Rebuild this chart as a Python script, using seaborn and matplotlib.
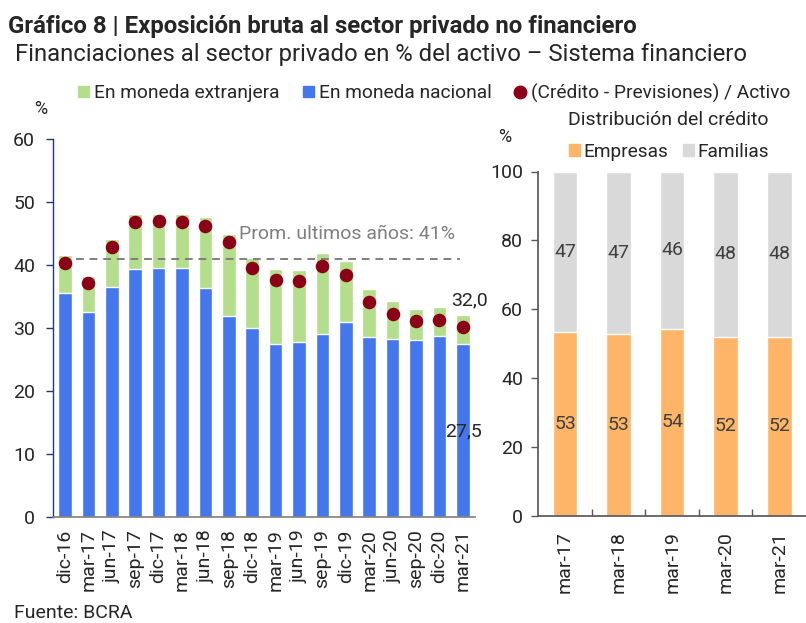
import matplotlib.pyplot as plt
import pandas as pd
import seaborn as sns
from matplotlib.lines import Line2D
from matplotlib.patches import Patch

# Datos del panel izquierdo (% del activo)
periodos = ["dic-16", "mar-17", "jun-17", "sep-17", "dic-17", "mar-18",
            "jun-18", "sep-18", "dic-18", "mar-19", "jun-19", "sep-19",
            "dic-19", "mar-20", "jun-20", "sep-20", "dic-20", "mar-21"]
moneda_nacional = [35.6, 32.5, 36.5, 39.4, 39.6, 39.5, 36.4, 31.9, 30.0,
                   27.5, 27.8, 29.1, 31.0, 28.5, 28.3, 28.1, 28.8, 27.5]
total_financiaciones = [41.6, 38.2, 44.1, 48.1, 48.2, 48.2, 47.6, 44.9, 41.1,
                        39.4, 39.2, 41.9, 40.7, 36.2, 34.3, 33.1, 33.3, 32.0]
credito_neto = [40.4, 37.2, 42.9, 46.9, 47.0, 46.9, 46.2, 43.6, 39.5,
                37.7, 37.4, 39.8, 38.4, 34.2, 32.3, 31.1, 31.3, 30.1]
promedio = 41

# Datos del panel derecho (distribucion del credito, %)
anios = ["mar-17", "mar-18", "mar-19", "mar-20", "mar-21"]
empresas = [53.3, 52.8, 54.3, 52.0, 52.1]
familias = [46.7, 47.2, 45.7, 48.0, 47.9]

verde = "#b4de8c"
azul = "#4477eb"
bordo = "#8b0016"
naranja = "#ffb567"
gris = "#d9d9d9"

sns.set_theme(style="white")
plt.rcParams["font.family"] = ["Roboto", "DejaVu Sans"]

W, H = 806, 623
fig = plt.figure(figsize=(W / 100, H / 100), dpi=100)
ax1 = fig.add_axes([53.3 / W, 1 - 516.7 / H, (474.5 - 53.3) / W, (516.7 - 139.3) / H])
ax2 = fig.add_axes([538.3 / W, 1 - 516 / H, (806 - 538.3) / W, (516 - 171.5) / H])

# Panel izquierdo
df = pd.DataFrame({"periodo": periodos, "total": total_financiaciones,
                   "nacional": moneda_nacional, "neto": credito_neto})
sns.barplot(data=df, x="periodo", y="total", color=verde, saturation=1,
            width=0.585, ax=ax1)
sns.barplot(data=df, x="periodo", y="nacional", color=azul, saturation=1,
            width=0.585, ax=ax1)
sns.scatterplot(data=df, x="periodo", y="neto", color=bordo, s=95,
                linewidth=0, zorder=4, ax=ax1)
ax1.hlines(promedio, 0.45, 16.9, colors="#7f7f7f", linestyles=(0, (4, 3)),
           linewidth=1.4, zorder=3)
ax1.text(7.45, 44.9, "Prom. ultimos años: 41%", color="#7f7f7f",
         fontsize=14, va="center", ha="left")
ax1.text(17.3, 34.4, "32,0", fontsize=14, va="center", ha="center",
         clip_on=False)
ax1.text(17.05, 13.6, "27,5", fontsize=14, va="center", ha="center",
         clip_on=False)

ax1.set_xlim(-0.5, 17.5)
ax1.set_ylim(0, 60)
ax1.set_yticks(range(0, 61, 10))
ax1.set_xlabel("")
ax1.set_ylabel("")
ax1.tick_params(axis="x", rotation=90, labelsize=14, length=0, pad=9)
ax1.tick_params(axis="y", labelsize=14, length=5, width=1, color="#1f3a7a",
                left=True, pad=8)
for s in ["top", "right"]:
    ax1.spines[s].set_visible(False)
ax1.spines["left"].set_color("#1f3a7a")
ax1.spines["bottom"].set_color("#7f7f7f")
ax1.spines["left"].set_linewidth(1)
ax1.spines["bottom"].set_linewidth(1.2)

# Panel derecho
df2 = pd.DataFrame({"anio": anios, "empresas": empresas, "familias": familias})
df2["total"] = df2["empresas"] + df2["familias"]
sns.barplot(data=df2, x="anio", y="total", color=gris, saturation=1,
            width=0.46, ax=ax2)
sns.barplot(data=df2, x="anio", y="empresas", color=naranja, saturation=1,
            width=0.46, ax=ax2)
for i, (e, f) in enumerate(zip(empresas, familias)):
    ax2.text(i, e / 2, f"{e:.0f}", ha="center", va="center", fontsize=14,
             color="#404040")
    ax2.text(i, e + f / 2, f"{f:.0f}", ha="center", va="center", fontsize=14,
             color="#404040")
ax2.set_xlim(-0.5, 4.5)
ax2.set_ylim(0, 100)
ax2.set_yticks(range(0, 101, 20))
ax2.set_xticks([0.5, 1.5, 2.5, 3.5], minor=True)
ax2.set_xlabel("")
ax2.set_ylabel("")
ax2.tick_params(axis="x", which="major", rotation=90, labelsize=14, length=0,
                pad=11)
ax2.tick_params(axis="x", which="minor", length=5, width=1, color="#595959",
                bottom=True, direction="in")
ax2.tick_params(axis="y", labelsize=14, length=5, width=1, color="#595959",
                left=True, pad=6)
for s in ["top", "right"]:
    ax2.spines[s].set_visible(False)
ax2.spines["left"].set_color("#595959")
ax2.spines["bottom"].set_color("#595959")

# Textos y leyendas
fig.text(8 / W, 1 - 32.5 / H, "Gráfico 8 | Exposición bruta al sector privado no financiero",
         fontsize=17.3, fontweight="bold", va="baseline", ha="left")
fig.text(15 / W, 1 - 61 / H,
         "Financiaciones al sector privado en % del activo – Sistema financiero",
         fontsize=17.2, va="baseline", ha="left")
fig.text(41 / W, 1 - 109 / H, "%", fontsize=13, va="center", ha="center")
fig.text(504.5 / W, 1 - 137.5 / H, "%", fontsize=13, va="center", ha="center")
fig.text(668 / W, 1 - 120 / H, "Distribución del crédito", fontsize=14,
         va="center", ha="center")
fig.text(14 / W, 1 - 613 / H, "Fuente: BCRA", fontsize=14, va="center",
         ha="left")

handles1 = [Patch(color=verde), Patch(color=azul),
            Line2D([], [], marker="o", color=bordo, linestyle="none", markersize=9)]
fig.legend(handles1, ["En moneda extranjera", "En moneda nacional",
                      "(Crédito - Previsiones) / Activo"],
           loc="center left", bbox_to_anchor=(78 / W, 1 - 93 / H), ncol=3,
           frameon=False, fontsize=13.8, handlelength=0.57, handleheight=0.57,
           handletextpad=0.27, columnspacing=1.2, borderaxespad=0, borderpad=0)
handles2 = [Patch(color=naranja), Patch(color=gris)]
fig.legend(handles2, ["Empresas", "Familias"], loc="center left",
           bbox_to_anchor=(569 / W, 1 - 152 / H), ncol=2, frameon=False,
           fontsize=13.8, handlelength=0.57, handleheight=0.57,
           handletextpad=0.2, columnspacing=0.75, borderaxespad=0, borderpad=0)

fig.savefig("out.png", dpi=100)
